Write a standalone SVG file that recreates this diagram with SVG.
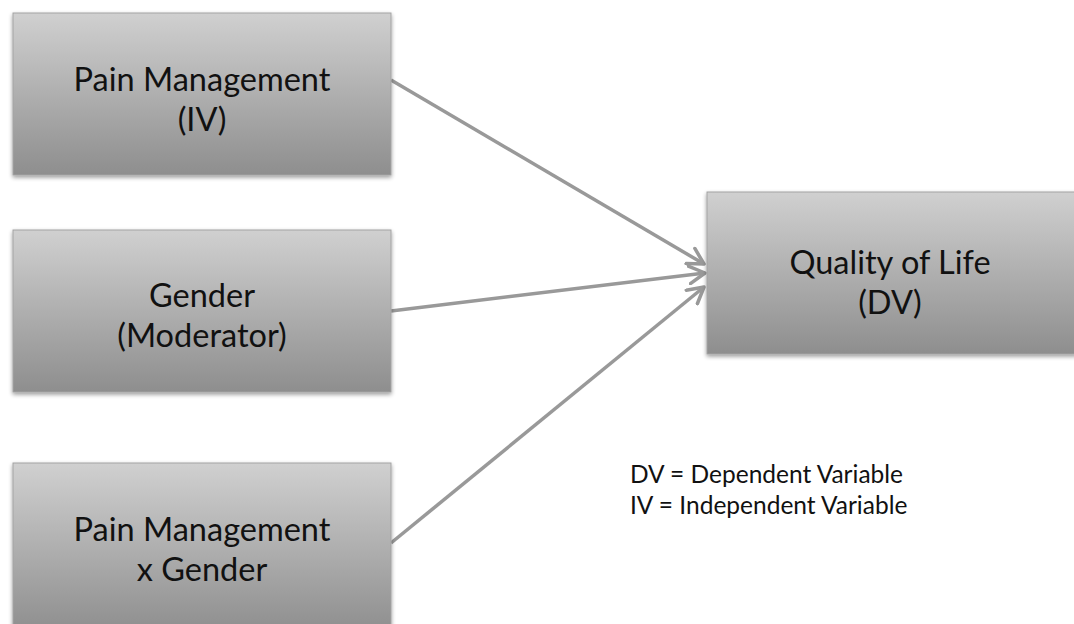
<svg xmlns="http://www.w3.org/2000/svg" width="1074" height="624" viewBox="0 0 1074 624">
<defs>
<linearGradient id="g" x1="0" y1="0" x2="0" y2="1">
<stop offset="0" stop-color="#d0d0d0"/>
<stop offset="1" stop-color="#8e8e8e"/>
</linearGradient>
<filter id="sh" x="-5%" y="-5%" width="110%" height="120%">
<feGaussianBlur in="SourceAlpha" stdDeviation="2"/>
<feOffset dx="0" dy="2" result="b"/>
<feComponentTransfer><feFuncA type="linear" slope="0.4"/></feComponentTransfer>
<feMerge><feMergeNode/><feMergeNode in="SourceGraphic"/></feMerge>
</filter>
<marker id="arr" viewBox="0 0 12 12" refX="10" refY="6" markerWidth="6" markerHeight="6" markerUnits="strokeWidth" orient="auto">
<path d="M1,1 L10,6 L1,11" fill="none" stroke="#999" stroke-width="2" stroke-linecap="round" stroke-linejoin="round"/>
</marker>
</defs>
<style>
.box{fill:url(#g);stroke:#a3a3a3;stroke-width:1;filter:url(#sh)}
.t{font-family:Lato,"Open Sans",sans-serif;font-size:32.5px;fill:#111;text-anchor:middle}
.lg{font-family:Lato,"Open Sans",sans-serif;font-size:24.5px;fill:#111}
.c{stroke:#999;stroke-width:3.5;fill:none;marker-end:url(#arr)}
</style>
<rect width="1074" height="624" fill="#fff"/>
<g id="connectors">
<line class="c" x1="391" y1="80" x2="704" y2="264"/>
<line class="c" x1="391" y1="311" x2="705" y2="273"/>
<line class="c" x1="391" y1="543" x2="704" y2="287"/>
</g>
<g id="n1">
<rect class="box" x="13" y="13" width="378" height="162"/>
<text class="t" x="202" y="91">Pain Management</text>
<text class="t" x="202" y="131">(IV)</text>
</g>
<g id="n2">
<rect class="box" x="13" y="230" width="378" height="162"/>
<text class="t" x="202" y="307">Gender</text>
<text class="t" x="202" y="347">(Moderator)</text>
</g>
<g id="n3">
<rect class="box" x="13" y="463" width="378" height="170"/>
<text class="t" x="202" y="541">Pain Management</text>
<text class="t" x="202" y="581">x Gender</text>
</g>
<g id="n4">
<rect class="box" x="707" y="192" width="370" height="162"/>
<text class="t" x="890" y="274">Quality of Life</text>
<text class="t" x="890" y="314">(DV)</text>
</g>
<g id="legend">
<text class="lg" x="630" y="483">DV = Dependent Variable</text>
<text class="lg" x="630" y="514">IV = Independent Variable</text>
</g>
</svg>
